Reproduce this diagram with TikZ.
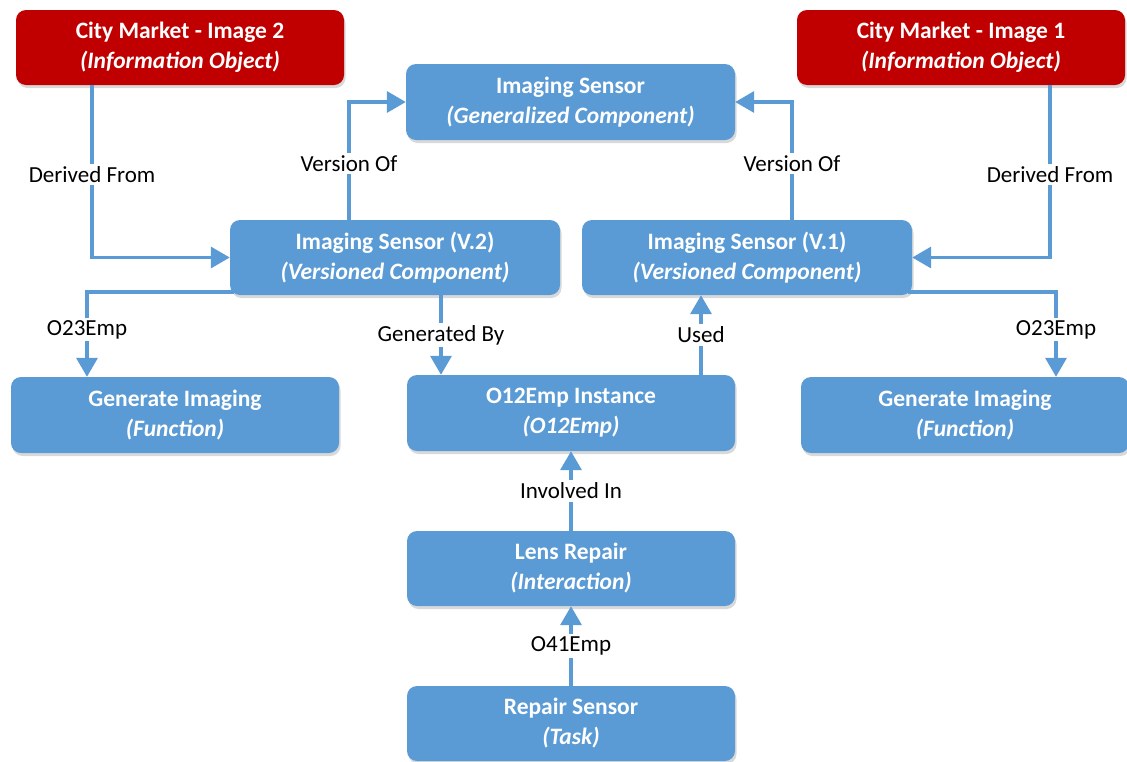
\documentclass[tikz,border=0pt]{standalone}
\usepackage{fontspec}
\setmainfont{Carlito}
\usetikzlibrary{arrows.meta,shadows}
\definecolor{boxblue}{HTML}{5B9BD5}
\definecolor{boxred}{HTML}{C00000}

\begin{document}
\begin{tikzpicture}[x=1pt,y=-1pt,
  box/.style={fill=boxblue, rounded corners=10pt, minimum width=328pt,
    minimum height=75pt, align=center, text=white, inner sep=0pt,
    font=\fontsize{23.5}{30}\selectfont\bfseries,
    drop shadow={shadow xshift=1.5pt, shadow yshift=-3pt, opacity=0.15, fill=black}},
  redbox/.style={box, fill=boxred},
  conn/.style={draw=boxblue, line width=3.5pt, -{Triangle[length=19pt,width=21pt]}},
  lbl/.style={fill=white, inner sep=2.5pt, text=black, font=\fontsize{23}{26}\selectfont}
]
\useasboundingbox (0,0) rectangle (1127,761);

% boxes
\node[redbox] (img2) at (180,47.5) {City Market - Image 2\\\textit{(Information Object)}};
\node[redbox] (img1) at (961,47.5) {City Market - Image 1\\\textit{(Information Object)}};
\node[box, minimum width=329pt, minimum height=76pt] (gen) at (570.5,102) {Imaging Sensor\\\textit{(Generalized Component)}};
\node[box, minimum width=330pt] (v2) at (395,257.5) {Imaging Sensor (V.2)\\\textit{(Versioned Component)}};
\node[box, minimum width=330pt] (v1) at (747,257.5) {Imaging Sensor (V.1)\\\textit{(Versioned Component)}};
\node[box, minimum height=76pt] (fL) at (175,415) {Generate Imaging\\\textit{(Function)}};
\node[box, minimum height=76pt] (fR) at (965,415) {Generate Imaging\\\textit{(Function)}};
\node[box, minimum height=76pt] (inst) at (571,413) {O12Emp Instance\\\textit{(O12Emp)}};
\node[box] (lens) at (571,568.5) {Lens Repair\\\textit{(Interaction)}};
\node[box] (task) at (571,723.5) {Repair Sensor\\\textit{(Task)}};

% anchor points along box edges
\coordinate (dl) at ([xshift=-88pt]img2.south);
\coordinate (dr) at ([xshift=89pt]img1.south);
\coordinate (vl) at ([xshift=-46pt]v2.north);
\coordinate (vr) at ([xshift=45pt]v1.north);
\coordinate (ol) at ([xshift=-88pt]fL.north);
\coordinate (or) at ([xshift=91pt]fR.north);
\coordinate (v2o) at ([yshift=3pt]v2.south west);
\coordinate (v1o) at ([yshift=3pt]v1.south east);
\coordinate (gb) at ([xshift=46pt]v2.south);
\coordinate (us) at ([xshift=130pt]inst.north);

% connectors
\draw[conn] (dl) |- node[lbl, pos=0.26] {Derived From} (v2.west);
\draw[conn] (dr) |- node[lbl, pos=0.26] {Derived From} (v1.east);
\draw[conn] (vl) |- node[lbl, pos=0.24] {Version Of} (gen.west);
\draw[conn] (vr) |- node[lbl, pos=0.24] {Version Of} (gen.east);
\draw[conn] ([xshift=4pt]v2o) -| node[lbl, pos=0.72] {O23Emp} (ol);
\draw[conn] ([xshift=-4pt]v1o) -| node[lbl, pos=0.72] {O23Emp} (or);
\draw[conn] (gb) -- node[lbl] {Generated By} (gb |- inst.north);
\draw[conn] (us) -- node[lbl] {Used} (us |- v1.south);
\draw[conn] (lens.north) -- node[lbl] {Involved In} (inst.south);
\draw[conn] (task.north) -- node[lbl] {O41Emp} (lens.south);
\end{tikzpicture}
\end{document}
